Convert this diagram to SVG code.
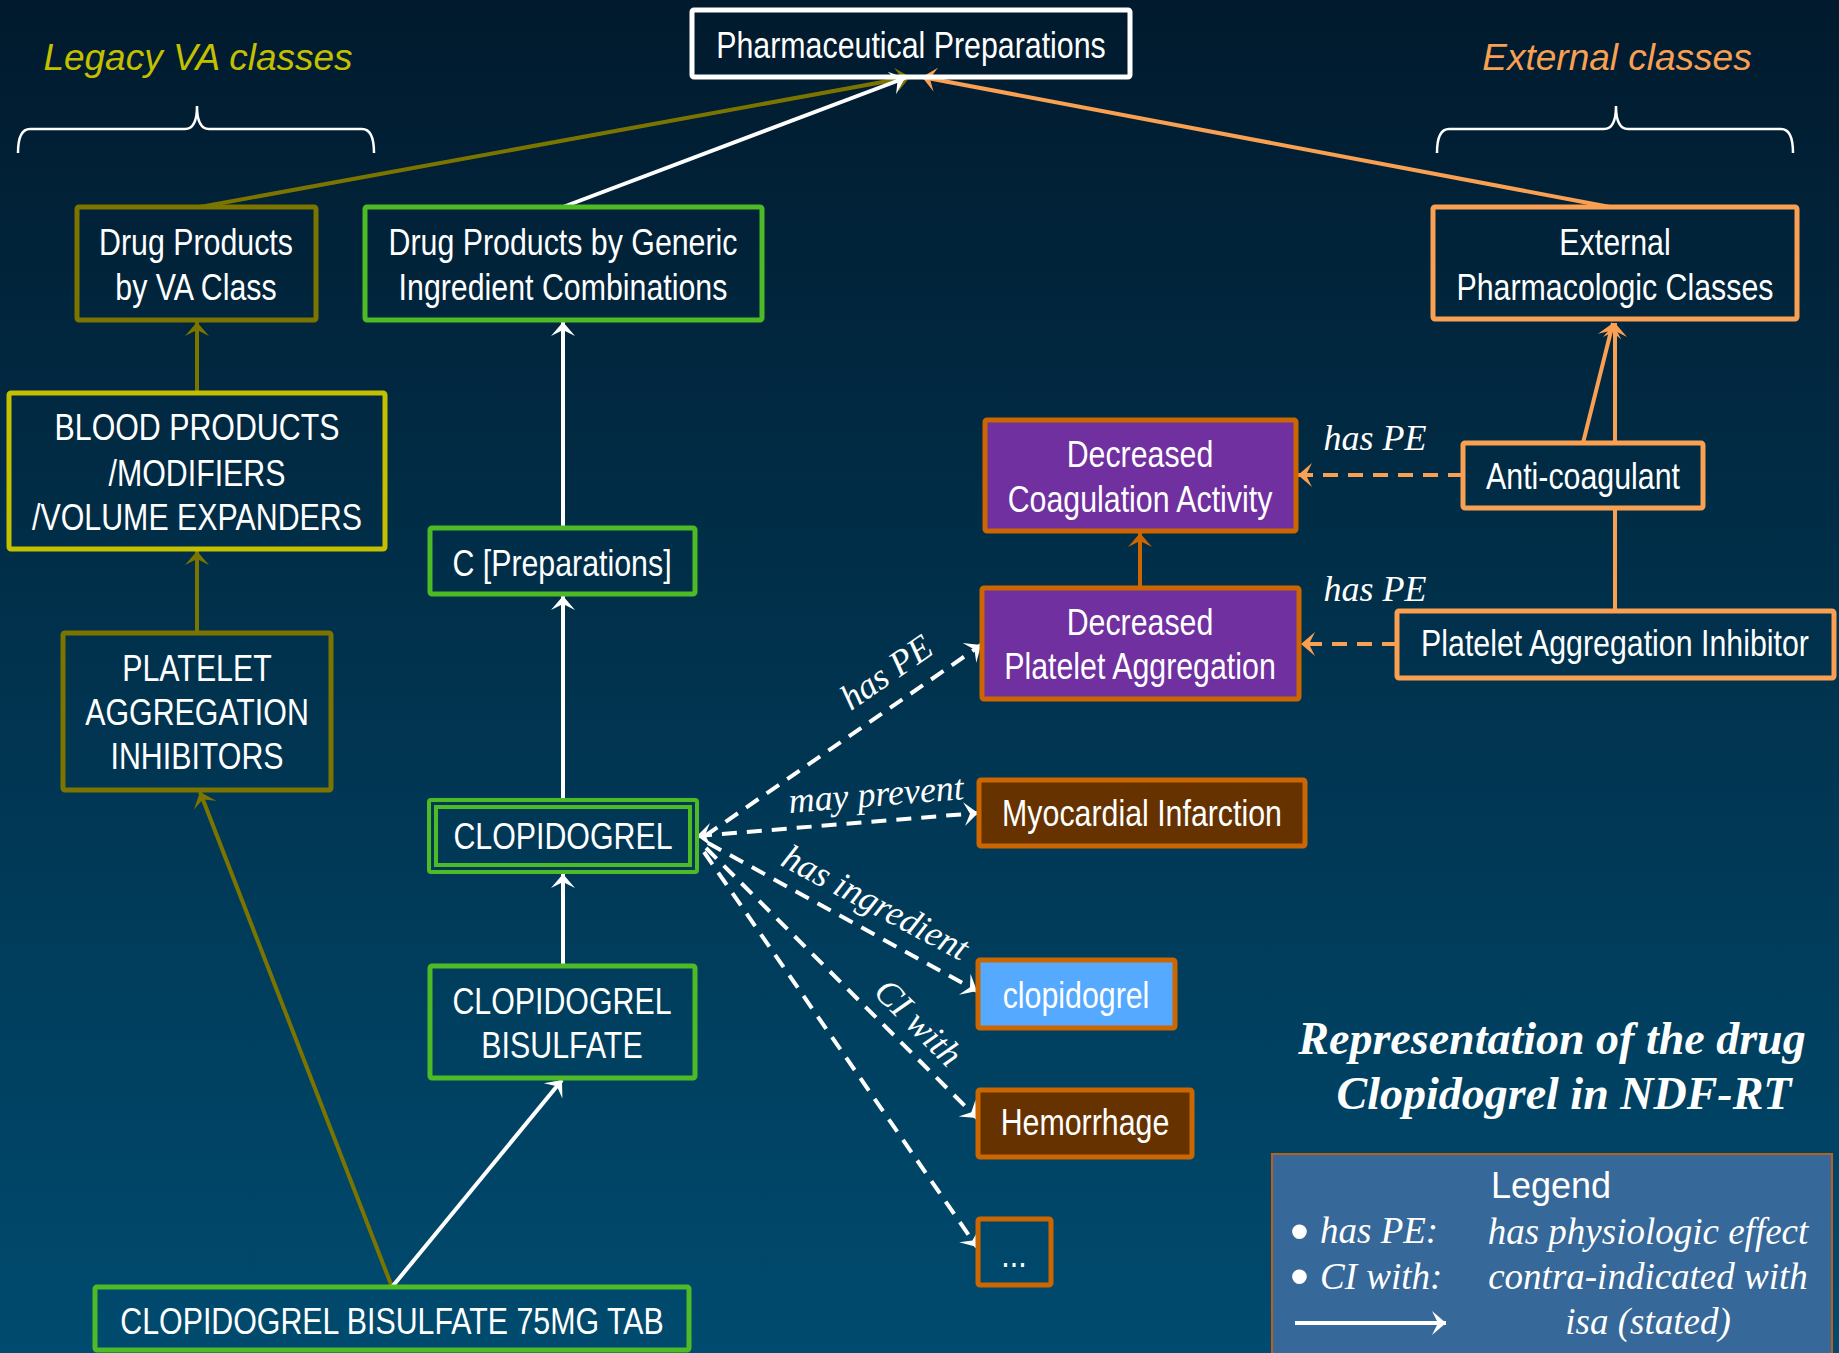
<svg xmlns="http://www.w3.org/2000/svg" width="1839" height="1353" viewBox="0 0 1839 1353">
<defs>
<linearGradient id="bg" x1="0" y1="0" x2="0" y2="1">
<stop offset="0" stop-color="#011a2d"/>
<stop offset="1" stop-color="#004b6f"/>
</linearGradient>
<marker id="aW" viewBox="-15 -13 16 26" refX="0" refY="0" markerWidth="16" markerHeight="26" markerUnits="userSpaceOnUse" orient="auto"><path d="M0,0 L-14,-12 L-8,0 L-14,12 Z" fill="#ffffff"/></marker>
<marker id="aWs" viewBox="-15 -13 16 26" refX="0" refY="0" markerWidth="16" markerHeight="26" markerUnits="userSpaceOnUse" orient="auto-start-reverse"><path d="M0,0 L-14,-12 L-8,0 L-14,12 Z" fill="#ffffff"/></marker>
<marker id="aO" viewBox="-15 -13 16 26" refX="0" refY="0" markerWidth="16" markerHeight="26" markerUnits="userSpaceOnUse" orient="auto"><path d="M0,0 L-14,-12 L-8,0 L-14,12 Z" fill="#7b7500"/></marker>
<marker id="aL" viewBox="-15 -13 16 26" refX="0" refY="0" markerWidth="16" markerHeight="26" markerUnits="userSpaceOnUse" orient="auto"><path d="M0,0 L-14,-12 L-8,0 L-14,12 Z" fill="#f9a052"/></marker>
<marker id="aD" viewBox="-15 -13 16 26" refX="0" refY="0" markerWidth="16" markerHeight="26" markerUnits="userSpaceOnUse" orient="auto"><path d="M0,0 L-14,-12 L-8,0 L-14,12 Z" fill="#cc6600"/></marker>
</defs>
<style>
.n{font-family:"Liberation Sans Narrow","Liberation Sans",Arial,sans-serif;font-size:37px;fill:#ffffff;text-anchor:middle}
.hd{font-family:"Liberation Sans",Arial,sans-serif;font-style:italic;font-size:37px;text-anchor:middle}
.lbl{font-family:"Liberation Serif","Times New Roman",serif;font-style:italic;font-size:36px;fill:#ffffff;text-anchor:middle}
.lg{font-family:"Liberation Serif","Times New Roman",serif;font-style:italic;font-size:37px;fill:#ffffff;text-anchor:middle}
.bul{font-family:"Liberation Sans",Arial,sans-serif;font-size:54px;fill:#ffffff}
.ttl{font-family:"Liberation Serif","Times New Roman",serif;font-style:italic;font-weight:bold;font-size:46px;fill:#ffffff;text-anchor:middle}
.b{stroke-width:5}
.e{fill:none}
.ol{stroke:#7b7500}
.ye{stroke:#c4c000}
.gr{stroke:#4dbb25}
.or{stroke:#f9a052}
.do{stroke:#cc6600}
.pu{fill:#7030a0}
.br{fill:#663300}
.lb{fill:#55aaff}
.c{fill:none;stroke-width:4}
.d{fill:none;stroke-width:4;stroke-dasharray:15 10}
.brace{fill:none;stroke:#ffffff;stroke-width:2.5}
</style>
<rect x="0" y="0" width="1839" height="1353" fill="url(#bg)"/>

<g id="headings">
<text class="hd" x="198" y="70" fill="#c4c000">Legacy VA classes</text>
<text class="hd" x="1617" y="70" fill="#f9a052">External classes</text>
<path class="brace" d="M18,153 Q18,129 30,129 H185 Q197,129 197,106 Q197,129 209,129 H362 Q374,129 374,153"/>
<path class="brace" d="M1437,153 Q1437,129 1449,129 H1604 Q1616,129 1616,106 Q1616,129 1628,129 H1781 Q1793,129 1793,153"/>
</g>

<g id="connectors">
<path class="c" stroke="#7b7500" d="M200,207 L910,77" marker-end="url(#aO)"/>
<path class="c" stroke="#ffffff" d="M563,207 L905,78" marker-end="url(#aW)"/>
<path class="c" stroke="#f9a052" d="M1610,207 L922,77" marker-end="url(#aL)"/>
<path class="c" stroke="#7b7500" d="M197,393 V322" marker-end="url(#aO)"/>
<path class="c" stroke="#7b7500" d="M197,633 V551" marker-end="url(#aO)"/>
<path class="c" stroke="#7b7500" d="M392,1287 L200,792" marker-end="url(#aO)"/>
<path class="c" stroke="#ffffff" d="M563,528 V322" marker-end="url(#aW)"/>
<path class="c" stroke="#ffffff" d="M563,800 V596" marker-end="url(#aW)"/>
<path class="c" stroke="#ffffff" d="M563,966 V874" marker-end="url(#aW)"/>
<path class="c" stroke="#ffffff" d="M392,1287 L562,1080" marker-end="url(#aW)"/>
<path class="c" stroke="#f9a052" d="M1583,443 L1613,323" marker-end="url(#aL)"/>
<path class="c" stroke="#f9a052" d="M1615,611 V508 M1615,443 V323" marker-end="url(#aL)"/>
<path class="c" stroke="#cc6600" d="M1140,588 V533" marker-end="url(#aD)"/>
<path class="d" stroke="#f9a052" d="M1463,475 H1298" marker-end="url(#aL)"/>
<path class="d" stroke="#f9a052" d="M1397,644 H1301" marker-end="url(#aL)"/>
<path class="d" stroke="#ffffff" d="M705,836 L981,645" marker-end="url(#aW)"/>
<path class="d" stroke="#ffffff" d="M697,836 L978,813" marker-start="url(#aWs)" marker-end="url(#aW)"/>
<path class="d" stroke="#ffffff" d="M708,843 L977,991" marker-end="url(#aW)"/>
<path class="d" stroke="#ffffff" d="M706,848 L977,1118" marker-end="url(#aW)"/>
<path class="d" stroke="#ffffff" d="M704,852 L977,1247" marker-end="url(#aW)"/>
<text class="lbl" x="893" y="682" transform="rotate(-34.7 893 682)">has PE</text>
<text class="lbl" x="877" y="806" transform="rotate(-4.5 877 806)">may prevent</text>
<text class="lbl" x="870" y="913" transform="rotate(28 870 913)">has ingredient</text>
<text class="lbl" x="910" y="1031" transform="rotate(45 910 1031)">CI with</text>
<text class="lbl" x="1375" y="450">has PE</text>
<text class="lbl" x="1375" y="601">has PE</text>
</g>

<g id="pharmaceutical-preparations">
<rect class="b e" stroke="#ffffff" x="692" y="10" width="438" height="67" rx="2"/>
<g transform="translate(911,0) scale(0.82,1)"><text class="n" x="0" y="58">Pharmaceutical Preparations</text></g>
</g>
<g id="drug-products-va-class">
<rect class="b e ol" x="77" y="207" width="239" height="113" rx="2"/>
<g transform="translate(196,0) scale(0.82,1)"><text class="n" x="0" y="255">Drug Products</text><text class="n" x="0" y="300">by VA Class</text></g>
</g>
<g id="drug-products-generic">
<rect class="b e gr" x="365" y="207" width="397" height="113" rx="2"/>
<g transform="translate(563,0) scale(0.82,1)"><text class="n" x="0" y="255">Drug Products by Generic</text><text class="n" x="0" y="300">Ingredient Combinations</text></g>
</g>
<g id="external-pharmacologic-classes">
<rect class="b e or" x="1433" y="207" width="364" height="112" rx="2"/>
<g transform="translate(1615,0) scale(0.82,1)"><text class="n" x="0" y="255">External</text><text class="n" x="0" y="300">Pharmacologic Classes</text></g>
</g>
<g id="blood-products">
<rect class="b e ye" x="9" y="393" width="376" height="156" rx="2"/>
<g transform="translate(197,0) scale(0.82,1)"><text class="n" x="0" y="440">BLOOD PRODUCTS</text><text class="n" x="0" y="486">/MODIFIERS</text><text class="n" x="0" y="530">/VOLUME EXPANDERS</text></g>
</g>
<g id="platelet-aggregation-inhibitors">
<rect class="b e ol" x="63" y="633" width="268" height="157" rx="2"/>
<g transform="translate(197,0) scale(0.82,1)"><text class="n" x="0" y="681">PLATELET</text><text class="n" x="0" y="725">AGGREGATION</text><text class="n" x="0" y="769">INHIBITORS</text></g>
</g>
<g id="c-preparations">
<rect class="b e gr" x="430" y="528" width="265" height="66" rx="2"/>
<g transform="translate(562,0) scale(0.82,1)"><text class="n" x="0" y="576">C [Preparations]</text></g>
</g>
<g id="clopidogrel-ingredient-class">
<rect class="e gr" x="429" y="800" width="268" height="72" rx="2" stroke-width="4"/>
<rect class="e gr" x="436" y="807" width="254" height="58" stroke-width="4"/>
<g transform="translate(563,0) scale(0.82,1)"><text class="n" x="0" y="849">CLOPIDOGREL</text></g>
</g>
<g id="clopidogrel-bisulfate">
<rect class="b e gr" x="430" y="966" width="265" height="112" rx="2"/>
<g transform="translate(562,0) scale(0.82,1)"><text class="n" x="0" y="1014">CLOPIDOGREL</text><text class="n" x="0" y="1058">BISULFATE</text></g>
</g>
<g id="clopidogrel-bisulfate-75mg-tab">
<rect class="b e gr" x="95" y="1287" width="594" height="63" rx="2"/>
<g transform="translate(392,0) scale(0.82,1)"><text class="n" x="0" y="1334">CLOPIDOGREL BISULFATE 75MG TAB</text></g>
</g>
<g id="decreased-coagulation-activity">
<rect class="b do pu" x="985" y="420" width="311" height="111" rx="2"/>
<g transform="translate(1140,0) scale(0.82,1)"><text class="n" x="0" y="467">Decreased</text><text class="n" x="0" y="512">Coagulation Activity</text></g>
</g>
<g id="anti-coagulant">
<rect class="b e or" x="1463" y="443" width="240" height="65" rx="2"/>
<g transform="translate(1583,0) scale(0.82,1)"><text class="n" x="0" y="489">Anti-coagulant</text></g>
</g>
<g id="decreased-platelet-aggregation">
<rect class="b do pu" x="982" y="588" width="317" height="111" rx="2"/>
<g transform="translate(1140,0) scale(0.82,1)"><text class="n" x="0" y="635">Decreased</text><text class="n" x="0" y="679">Platelet Aggregation</text></g>
</g>
<g id="platelet-aggregation-inhibitor">
<rect class="b e or" x="1397" y="611" width="437" height="67" rx="2"/>
<g transform="translate(1615,0) scale(0.82,1)"><text class="n" x="0" y="656">Platelet Aggregation Inhibitor</text></g>
</g>
<g id="myocardial-infarction">
<rect class="b do br" x="979" y="780" width="326" height="66" rx="2"/>
<g transform="translate(1142,0) scale(0.82,1)"><text class="n" x="0" y="826">Myocardial Infarction</text></g>
</g>
<g id="clopidogrel">
<rect class="b do lb" x="978" y="960" width="197" height="68" rx="2"/>
<g transform="translate(1076,0) scale(0.82,1)"><text class="n" x="0" y="1008">clopidogrel</text></g>
</g>
<g id="hemorrhage">
<rect class="b do br" x="978" y="1090" width="214" height="67" rx="2"/>
<g transform="translate(1085,0) scale(0.82,1)"><text class="n" x="0" y="1135">Hemorrhage</text></g>
</g>
<g id="more">
<rect class="b e do" x="978" y="1219" width="73" height="66" rx="2"/>
<g transform="translate(1014,0) scale(0.82,1)"><text class="n" x="0" y="1267">...</text></g>
</g>

<g id="title">
<text class="ttl" x="1552" y="1054">Representation of the drug</text>
<text class="ttl" x="1564" y="1109">Clopidogrel in NDF-RT</text>
</g>

<g id="legend">
<rect x="1272" y="1154" width="560" height="210" fill="#36689a" stroke="#b8601c" stroke-width="2"/>
<text x="1551" y="1198" font-family="Liberation Sans, Arial, sans-serif" font-size="36" fill="#ffffff" text-anchor="middle">Legend</text>
<text class="bul" x="1290" y="1250">•</text>
<text class="lg" x="1320" y="1243" style="text-anchor:start">has PE:</text>
<text class="bul" x="1290" y="1295">•</text>
<text class="lg" x="1320" y="1289" style="text-anchor:start">CI with:</text>
<path class="c" stroke="#ffffff" d="M1295,1323 H1446" marker-end="url(#aW)"/>
<text class="lg" x="1648" y="1244">has physiologic effect</text>
<text class="lg" x="1648" y="1289">contra-indicated with</text>
<text class="lg" x="1648" y="1334">isa (stated)</text>
</g>
</svg>
